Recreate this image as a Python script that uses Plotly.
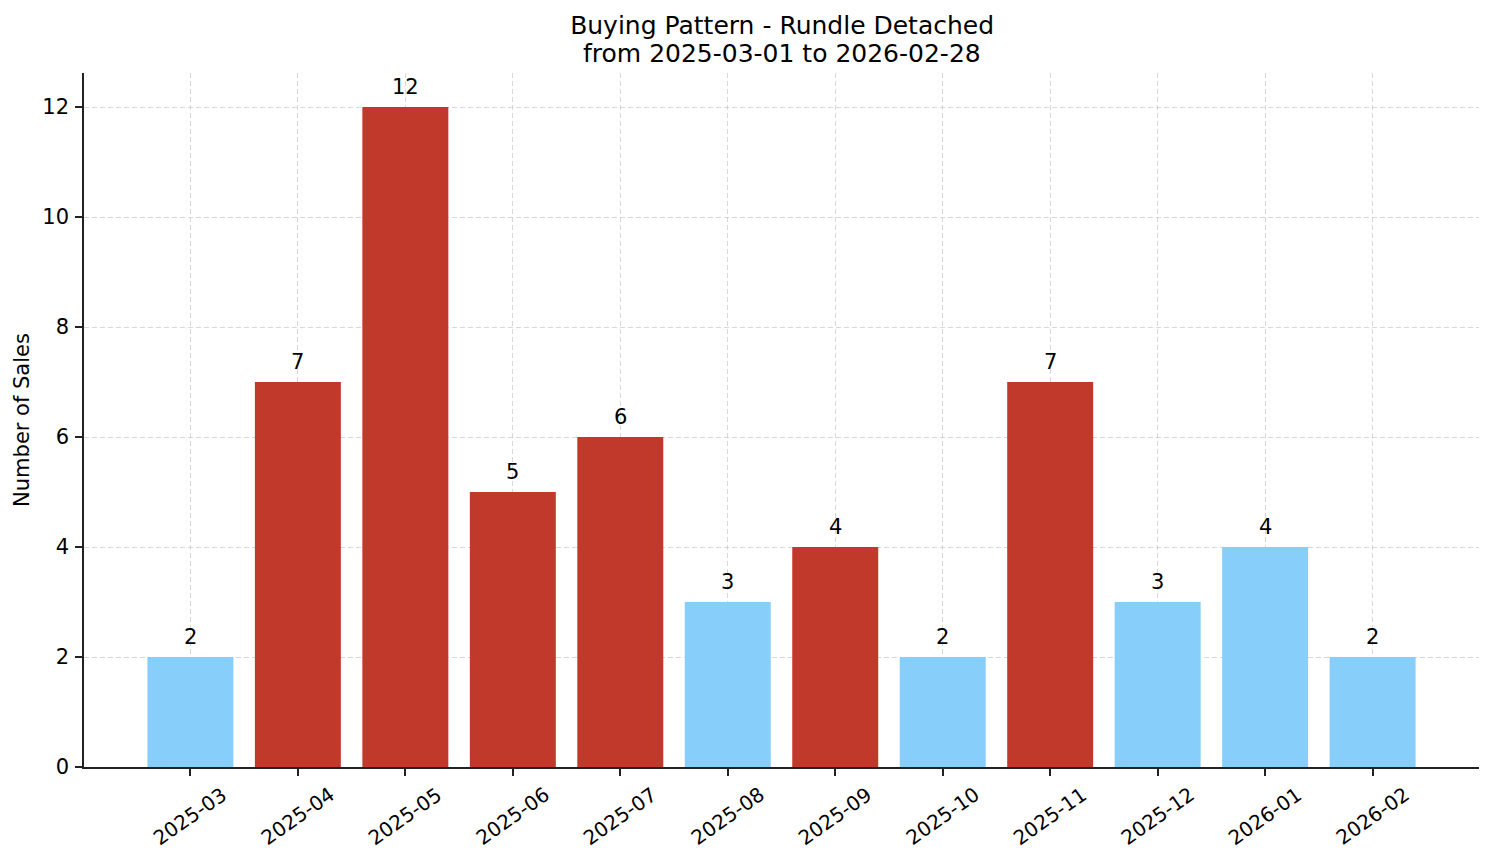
import plotly.graph_objects as go

months = ["2025-03", "2025-04", "2025-05", "2025-06", "2025-07", "2025-08",
          "2025-09", "2025-10", "2025-11", "2025-12", "2026-01", "2026-02"]
sales = [2, 7, 12, 5, 6, 3, 4, 2, 7, 3, 4, 2]
highlight = [False, True, True, True, True, False, True, False, True, False, False, False]

title_line1 = "Buying Pattern - Rundle Detached"
title_line2 = "from 2025-03-01 to 2026-02-28"

RED = "#C0392B"
BLUE = "#87CEFA"
colors = [RED if h else BLUE for h in highlight]

FONT = "DejaVu Sans"

fig = go.Figure()
fig.add_trace(go.Bar(
    x=months, y=sales, marker=dict(color=colors, line=dict(width=0)),
    width=0.8, showlegend=False, hoverinfo="x+y",
))

# value labels above bars
for m, v in zip(months, sales):
    fig.add_annotation(x=m, xref="x", y=v, yref="y", yshift=20,
                       text=str(v), showarrow=False,
                       xanchor="center", yanchor="middle",
                       font=dict(family=FONT, size=21, color="black"))

# rotated category labels
for m in months:
    fig.add_annotation(x=m, xref="x", y=0, yref="paper", yshift=-49,
                       text=m, textangle=-35, showarrow=False,
                       xanchor="center", yanchor="middle",
                       font=dict(family=FONT, size=20, color="black"))

# second title line
fig.add_annotation(x=0.5004, xref="paper", y=1.0288, yref="paper",
                   text=title_line2, showarrow=False,
                   xanchor="center", yanchor="middle",
                   font=dict(family=FONT, size=25, color="black"))

fig.update_layout(
    width=1494, height=863,
    margin=dict(l=84, r=15, t=73, b=96),
    paper_bgcolor="white", plot_bgcolor="white",
    font=dict(family=FONT, size=20, color="black"),
    title=dict(text=title_line1,
               x=0.5235, xanchor="center", y=1 - 25 / 863, yanchor="middle",
               font=dict(family=FONT, size=25, color="black")),
    bargap=0.2,
)
GRID = "rgba(170,170,170,0.45)"
fig.update_xaxes(
    type="category", range=[-0.99, 11.99], showticklabels=False,
    ticks="outside", ticklen=7, tickwidth=1.6, tickcolor="#222",
    showline=True, linecolor="#222", linewidth=1.6,
    showgrid=True, gridcolor=GRID, griddash="5px,3px", gridwidth=1,
    layer="above traces", zeroline=False,
)
fig.update_yaxes(
    range=[0, 12.62], tickvals=[0, 2, 4, 6, 8, 10, 12],
    ticks="outside", ticklen=7, tickwidth=1.6, tickcolor="#222",
    ticklabelstandoff=2,
    showline=True, linecolor="#222", linewidth=1.6,
    showgrid=True, gridcolor=GRID, griddash="5px,3px", gridwidth=1,
    layer="above traces", zeroline=False,
    tickfont=dict(family=FONT, size=21, color="black"),
    title=dict(text="Number of Sales", standoff=7,
               font=dict(family=FONT, size=21, color="black")),
)

fig.write_html("out.html", config={"displayModeBar": False},
               post_script="document.body.style.margin='0px';document.body.style.overflow='hidden';")
